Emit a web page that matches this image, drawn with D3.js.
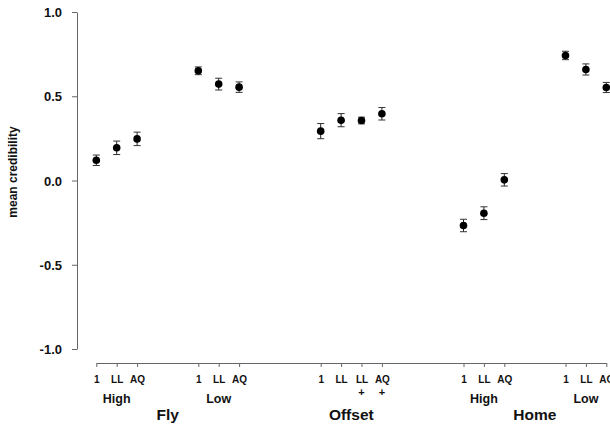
<!DOCTYPE html>
<html>
<head>
<meta charset="utf-8">
<script src="https://cdn.jsdelivr.net/npm/d3@7"></script>
<style>
  html, body { margin: 0; padding: 0; background: #fff; overflow: hidden; }
  svg { display: block; }
  text { font-family: "Liberation Sans", Arial, sans-serif; font-weight: bold; fill: #111; }
</style>
</head>
<body>
<div id="chart"></div>
<script>
// slot on the x axis for each condition (gaps separate the groups)
var slots = [0, 1, 2, 5, 6, 7, 11, 12, 13, 14, 18, 19, 20, 23, 24, 25];
var tickLabels = ["1", "LL", "AQ", "1", "LL", "AQ", "1", "LL", "LL", "AQ", "1", "LL", "AQ", "1", "LL", "AQ"];
var tickSubLabels = ["", "", "", "", "", "", "", "", "+", "+", "", "", "", "", "", ""];
var means = [0.12, 0.194, 0.247, 0.651, 0.572, 0.554, 0.293, 0.358, 0.356, 0.396, -0.267, -0.194, 0.004, 0.742, 0.659, 0.552];
var errs = [0.031, 0.04, 0.04, 0.023, 0.035, 0.031, 0.045, 0.039, 0.02, 0.037, 0.037, 0.038, 0.037, 0.025, 0.033, 0.03];

// sub groups: label and the condition indices they span
var subGroups = ["High", "Low", "High", "Low"];
var subGroupIdx = [[0, 2], [3, 5], [10, 12], [13, 15]];
var mainGroups = ["Fly", "Offset", "Home"];
var mainGroupIdx = [[0, 5], [6, 9], [10, 15]];

var yTicks = [-1.0, -0.5, 0.0, 0.5, 1.0];

var svgWidth = 610;
var svgHeight = 424;

var svg = d3.select("#chart")
  .append("svg")
  .attr("width", svgWidth)
  .attr("height", svgHeight);

var xScale = d3.scaleLinear()
  .domain([0, 25])
  .range([96.3, 606.3]);

var yScale = d3.scaleLinear()
  .domain([-1, 1])
  .range([349, 12]);

// y axis
var yAxis = d3.axisLeft(yScale)
  .tickValues(yTicks)
  .tickFormat(function(d) { return d.toFixed(1); })
  .tickSize(5)
  .tickSizeOuter(0)
  .tickPadding(10);

var yAxisG = svg.append("g")
  .attr("transform", "translate(77,0)")
  .call(yAxis);
yAxisG.select(".domain").attr("stroke", "#666");
yAxisG.selectAll(".tick line").attr("stroke", "#666");
yAxisG.selectAll("text")
  .style("font-size", "13px")
  .attr("dy", "0.36em")
  .attr("fill", "#111");

// x axis
var xAxis = d3.axisBottom(xScale)
  .tickValues(slots)
  .tickFormat(function(d, i) { return tickLabels[i]; })
  .tickSize(4)
  .tickSizeOuter(0)
  .tickPadding(9);

var xAxisG = svg.append("g")
  .attr("transform", "translate(0,363)")
  .call(xAxis);
xAxisG.select(".domain").attr("stroke", "#666");
xAxisG.selectAll(".tick line").attr("stroke", "#666");
xAxisG.selectAll(".tick text")
  .style("font-size", "10px")
  .attr("fill", "#111");

// second line of tick labels ("+")
svg.selectAll(".sub-tick")
  .data(slots)
  .enter()
  .append("text")
  .attr("x", function(d) { return xScale(d); })
  .attr("y", 396)
  .attr("text-anchor", "middle")
  .style("font-size", "11px")
  .text(function(d, i) { return tickSubLabels[i]; });

// sub group labels
svg.selectAll(".sub-group")
  .data(subGroups)
  .enter()
  .append("text")
  .attr("x", function(d, i) {
    var r = subGroupIdx[i];
    return (xScale(slots[r[0]]) + xScale(slots[r[1]])) / 2;
  })
  .attr("y", 403)
  .attr("text-anchor", "middle")
  .style("font-size", "12.5px")
  .text(function(d) { return d; });

// main group labels
svg.selectAll(".main-group")
  .data(mainGroups)
  .enter()
  .append("text")
  .attr("x", function(d, i) {
    var r = mainGroupIdx[i];
    return (xScale(slots[r[0]]) + xScale(slots[r[1]])) / 2;
  })
  .attr("y", 419.5)
  .attr("text-anchor", "middle")
  .style("font-size", "15.5px")
  .text(function(d) { return d; });

// y axis title
svg.append("text")
  .attr("transform", "translate(17,172) rotate(-90)")
  .attr("text-anchor", "middle")
  .style("font-size", "12px")
  .text("mean credibility");

// error bars
var bars = svg.append("g")
  .selectAll("g")
  .data(means)
  .enter()
  .append("g");

bars.append("line")
  .attr("x1", function(d, i) { return xScale(slots[i]); })
  .attr("x2", function(d, i) { return xScale(slots[i]); })
  .attr("y1", function(d, i) { return yScale(d - errs[i]); })
  .attr("y2", function(d, i) { return yScale(d + errs[i]); })
  .attr("stroke", "#222")
  .attr("stroke-width", 1);

bars.append("line")
  .attr("x1", function(d, i) { return xScale(slots[i]) - 3.5; })
  .attr("x2", function(d, i) { return xScale(slots[i]) + 3.5; })
  .attr("y1", function(d, i) { return yScale(d - errs[i]); })
  .attr("y2", function(d, i) { return yScale(d - errs[i]); })
  .attr("stroke", "#333")
  .attr("stroke-width", 1);

bars.append("line")
  .attr("x1", function(d, i) { return xScale(slots[i]) - 3.5; })
  .attr("x2", function(d, i) { return xScale(slots[i]) + 3.5; })
  .attr("y1", function(d, i) { return yScale(d + errs[i]); })
  .attr("y2", function(d, i) { return yScale(d + errs[i]); })
  .attr("stroke", "#333")
  .attr("stroke-width", 1);

// points
bars.append("circle")
  .attr("cx", function(d, i) { return xScale(slots[i]); })
  .attr("cy", function(d) { return yScale(d); })
  .attr("r", 3.8)
  .attr("fill", "#000");
</script>
</body>
</html>
